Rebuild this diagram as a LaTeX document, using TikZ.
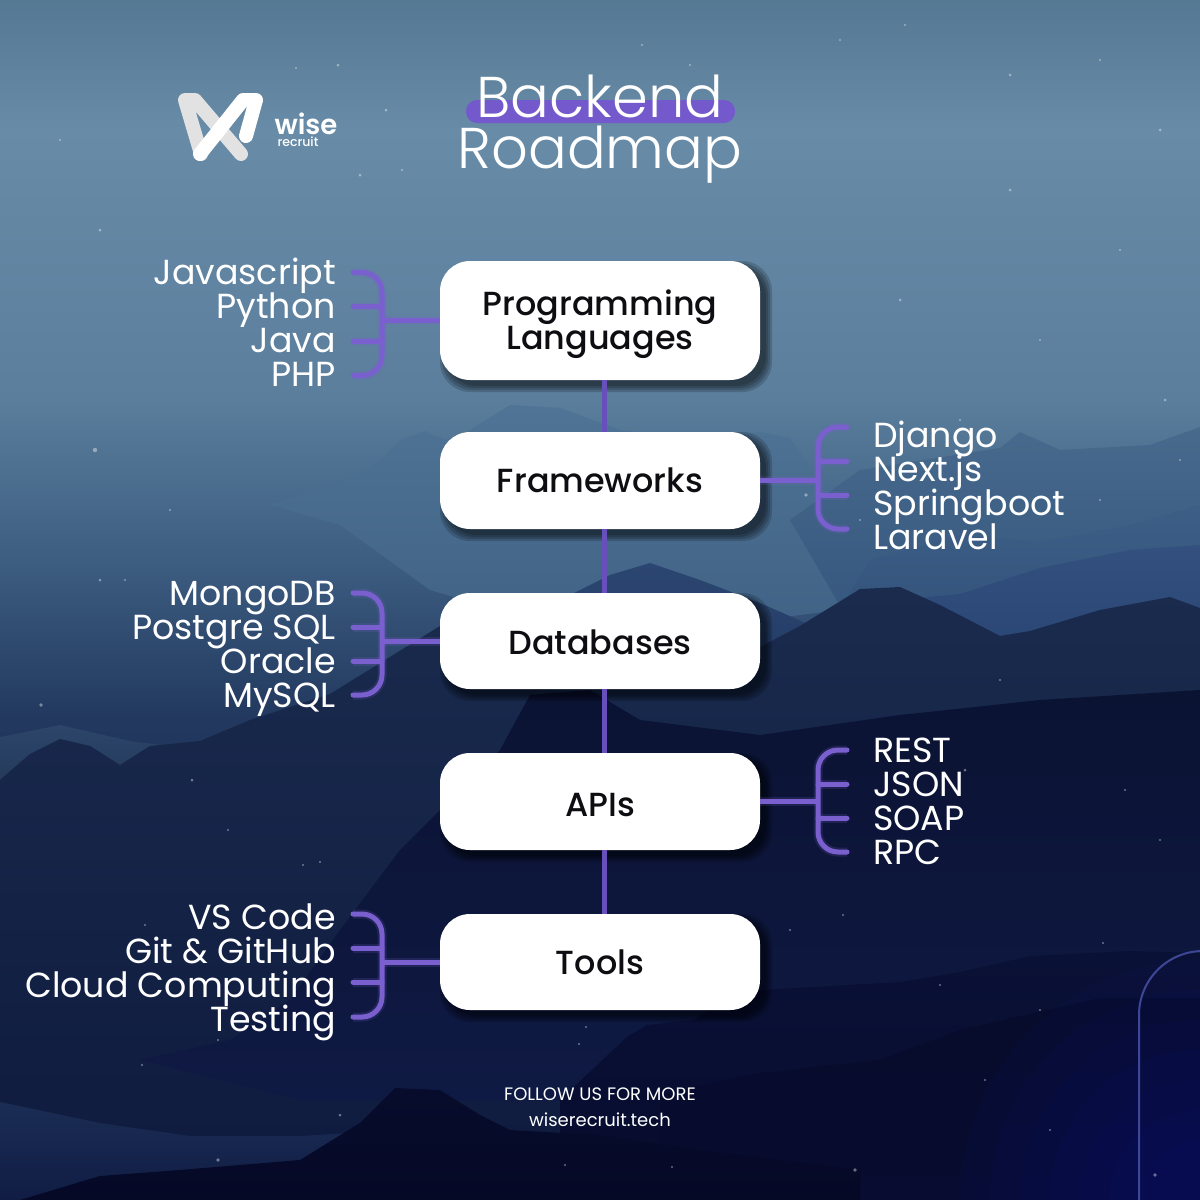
\documentclass[tikz,border=0pt]{standalone}
\usepackage{fontspec}
\setmainfont{Poppins}
\newfontfamily\poplight{Poppins Light}
\newfontfamily\popmed{Poppins Medium}
\newfontfamily\popsemi{Poppins SemiBold}
\usetikzlibrary{calc}
\definecolor{violet}{HTML}{7A5FCF}
\definecolor{spinecol}{HTML}{6750BC}
\definecolor{pillcol}{HTML}{7359CC}
\definecolor{inkcol}{HTML}{0E0E12}
\definecolor{glowcol}{RGB}{12,26,150}
\definecolor{arccol}{RGB}{62,70,150}
\definecolor{logogrey}{RGB}{226,226,226}
\tikzset{
  stepbox/.style={fill=white,rounded corners=30pt,minimum width=320pt,inner sep=0pt,align=center,text=inkcol,font=\popmed\fontsize{33.4}{34}\selectfont},
  boxbase/.style={text depth=10pt,text height=#1},
  itemleft/.style={anchor=base east,text=white,inner sep=0pt,font=\fontsize{34.8}{34}\selectfont},
  itemright/.style={anchor=base west,text=white,inner sep=0pt,font=\fontsize{34.8}{34}\selectfont},
  brack/.style={draw=violet,line width=5pt,line cap=round,preaction={draw=violet,line width=9pt,opacity=.18}},
  spine/.style={draw=spinecol,line width=5pt},
  foot/.style={text=white,inner sep=0pt,font=\fontsize{18}{20}\selectfont},
  starry/.style={fill=white,opacity=.4},
}
\newcommand{\leftbrack}[6]{%
  \coordinate (t1#6) at (353,#1); \coordinate (t2#6) at (353,#2);
  \coordinate (t3#6) at (353,#3); \coordinate (t4#6) at (353,#4);
  \coordinate (hub#6) at (382,#5);
  \draw[brack] (t2#6) -- (t2#6 -| hub#6);
  \draw[brack] (t3#6) -- (t3#6 -| hub#6);
  \draw[brack,line cap=butt] (hub#6) -- (hub#6 -| #6.west);
  \draw[brack,rounded corners=20pt] (t1#6) -- (t1#6 -| hub#6) -- (t4#6 -| hub#6) -- (t4#6);
}
\newcommand{\rightbrack}[6]{%
  \coordinate (t1#6) at (847,#1); \coordinate (t2#6) at (847,#2);
  \coordinate (t3#6) at (847,#3); \coordinate (t4#6) at (847,#4);
  \coordinate (hub#6) at (818,#5);
  \draw[brack] (t2#6) -- (t2#6 -| hub#6);
  \draw[brack] (t3#6) -- (t3#6 -| hub#6);
  \draw[brack,line cap=butt] (hub#6) -- (hub#6 -| #6.east);
  \draw[brack,rounded corners=20pt] (t1#6) -- (t1#6 -| hub#6) -- (t4#6 -| hub#6) -- (t4#6);
}
\newcommand{\softshadow}[4]{%
  \foreach \g in {6,4,2,0}{
    \fill[black,opacity=.17,rounded corners=30pt] (#1+6-\g,#2+6-\g) rectangle (#3+6+\g,#4+6+\g);
  }%
}
\newcommand{\rng}[3]{\definecolor{rngtop}{HTML}{#1}\definecolor{rngbot}{HTML}{#2}\shade[top color=rngtop,bottom color=rngbot] #3;}
\begin{document}
\begin{tikzpicture}[x=1pt,y=-1pt]
\useasboundingbox (0,0) rectangle (1200,1200);
\clip (0,0) rectangle (1200,1200);
% sky
\rng{557893}{688CA7}{(0,0) rectangle (1200,130)}
\rng{688CA7}{5A7E9C}{(0,129) rectangle (1200,400)}
\rng{5A7E9C}{3B5B7F}{(0,399) rectangle (1200,570)}
\rng{3B5B7F}{22385E}{(0,569) rectangle (1200,720)}
\rng{22385E}{14244C}{(0,719) rectangle (1200,1200)}
% distant ridges
\rng{4F7495}{3F6185}{(270,505) -- (300,495) -- (350,478) -- (378,462) -- (400,440) -- (425,431) -- (445,440) -- (470,430) -- (510,405) -- (560,408) -- (620,430) -- (700,440) -- (760,432) -- (790,438) -- (812,470) -- (860,510) -- (920,600) -- (600,640) -- (430,590) -- (340,525) -- cycle}
\rng{476A8D}{34547C}{(790,520) -- (860,470) -- (1000,448) -- (1020,432) -- (1060,450) -- (1150,445) -- (1200,427) -- (1200,640) -- (860,640) -- cycle}
\rng{3D5F86}{2C4A74}{(830,625) -- (870,560) -- (960,535) -- (1040,542) -- (1130,525) -- (1200,505) -- (1200,700) -- (870,700) -- cycle}
\rng{33507F}{253F6C}{(900,600) -- (960,594) -- (1040,568) -- (1130,550) -- (1200,545) -- (1200,720) -- (900,720) -- cycle}
\rng{2B4670}{1E3460}{(420,700) -- (480,660) -- (560,600) -- (610,575) -- (650,563) -- (700,580) -- (760,603) -- (810,625) -- (810,760) -- (420,760) -- cycle}
\rng{2C4568}{1E3356}{(0,737) -- (60,725) -- (130,741) -- (200,750) -- (260,740) -- (260,820) -- (0,820) -- cycle}
% main dark range
\rng{1A2B4E}{0E1A3E}{(0,780) -- (30,754) -- (60,739) -- (90,746) -- (120,765) -- (150,746) -- (200,741) -- (250,720) -- (330,694) -- (440,626) -- (520,650) -- (600,690) -- (700,660) -- (760,647) -- (800,626) -- (860,589) -- (900,587) -- (940,605) -- (1000,636) -- (1030,631) -- (1100,610) -- (1170,597) -- (1200,608) -- (1200,1200) -- (0,1200) -- cycle}
% dark spur in the middle, running out to the right
\rng{0B1333}{0F1A44}{(140,1060) -- (230,1040) -- (290,1000) -- (340,930) -- (400,850) -- (440,810) -- (500,750) -- (530,695) -- (590,690) -- (640,720) -- (760,735) -- (900,715) -- (1040,700) -- (1200,690) -- (1200,1100) -- (300,1100) -- cycle}
% lower right bands
\rng{0A1136}{070C2E}{(560,1100) -- (627,1037) -- (647,1025) -- (693,1020) -- (727,1000) -- (760,990) -- (900,982) -- (960,972) -- (1030,956) -- (1130,951) -- (1200,953) -- (1200,1200) -- (560,1200) -- cycle}
\rng{070C2C}{070C30}{(660,1095) -- (693,1087) -- (760,1073) -- (880,1060) -- (960,1030) -- (1100,998) -- (1200,998) -- (1200,1200) -- (660,1200) -- cycle}
% lower left slope
\rng{1B2D54}{101C44}{(0,1102) -- (100,1123) -- (190,1136) -- (300,1136) -- (480,1125) -- (520,1200) -- (0,1200) -- cycle}
% front ridge
\rng{070C2C}{050926}{(20,1200) -- (100,1176) -- (180,1170) -- (300,1160) -- (360,1123) -- (395,1088) -- (440,1090) -- (480,1115) -- (510,1130) -- (600,1135) -- (700,1150) -- (860,1170) -- (860,1200) -- cycle}
% blue glow in the lower right corner
\foreach \r in {240,210,180,150,120,90,60}{
  \fill[glowcol,opacity=.06] (1200,1200) circle[radius=\r];
}
% specks
\foreach \px/\py/\pr in {338/65/1.5,296/68/1.2,386/110/1.5,402/170/1.2,360/175/1.5,642/45/1.2,690/65/1.2,840/40/1.2,905/25/1.2,1010/75/1.5,1100/60/1.2,1160/130/1.5,60/140/1.2,100/230/1.5,1010/190/1.5,1120/250/1.2,900/300/1.5,1040/340/1.2,1165/400/1.5,960/420/1.2,95/450/2.2,170/510/1.2,100/580/1.5,125/580/1.2,41/705/1.8,192/780/1.5,228/830/1.2,303/865/1.2,320/862/1.2,145/925/1.2,218/1040/1.2,142/1065/1.2,340/1115/1.5,218/1160/1.8,785/480/1.5,806/495/1.8,860/520/1.2,1100/500/1.2,1180/460/1.2,1000/680/1.2,965/770/1.5,1125/790/1.2,1160/840/1.2,843/915/1.2,940/985/1.2,1040/1010/1.2,855/1170/1.8,1155/1175/1.8,1103/943/1.2,985/1080/1.2,1050/1130/1.2,586/1027/1.2,579/1044/1.2,565/1165/1.2,672/1167/1.2,790/930/1.2}{
  \fill[starry] (\px,\py) circle[radius=\pr];
}
% decorative arc
\draw[draw=arccol,line width=2pt,rounded corners=64pt] (1139,1201) -- (1139,951) -- (1204,951);
% logo
\draw[draw=logogrey,line width=14pt,line cap=round,line join=round] (201,154) -- (185,100) -- (195,100) -- (241,154);
\draw[draw=white,line width=14pt,line cap=round,line join=round] (200,154) -- (243,100) -- (256,100) -- (246,136);
\node[text=white,inner sep=0pt,font=\popsemi\fontsize{27.5}{28}\selectfont] (logoa) at (306,124) {wise};
\node[text=white,inner sep=0pt,font=\popmed\fontsize{12.5}{13}\selectfont] (logob) at (298,142) {recruit};
% title
\fill[pillcol,rounded corners=11pt] (466,100) rectangle (735,123);
\node[anchor=base,text=white,inner sep=0pt,font=\poplight\fontsize{57.5}{60}\selectfont] (titlea) at (600,117) {Backend};
\node[anchor=base,text=white,inner sep=0pt,font=\poplight\fontsize{57.5}{60}\selectfont] (titleb) at (600,168) {Roadmap};
% boxes
\softshadow{440}{261}{760}{380}
\softshadow{440}{432}{760}{529}
\softshadow{440}{593}{760}{689}
\softshadow{440}{753}{760}{850}
\softshadow{440}{914}{760}{1010}
\node[stepbox,minimum height=119pt] (bl) at (600,320.5) {\rule{0pt}{34pt}Programming\\Languages};
\node[stepbox,boxbase=34pt,minimum height=97pt] (bf) at (600,480.5) {Frameworks};
\node[stepbox,boxbase=37pt,minimum height=96pt] (bd) at (600,641) {Databases};
\node[stepbox,boxbase=40pt,minimum height=97pt] (ba) at (600,801.5) {APIs};
\node[stepbox,boxbase=34pt,minimum height=96pt] (bt) at (600,962) {Tools};
% spine
\draw[spine] ([xshift=4pt]bl.south) -- ([xshift=4pt]bf.north);
\draw[spine] ([xshift=4pt]bf.south) -- ([xshift=4pt]bd.north);
\draw[spine] ([xshift=4pt]bd.south) -- ([xshift=4pt]ba.north);
\draw[spine] ([xshift=4pt]ba.south) -- ([xshift=4pt]bt.north);
% brackets
\leftbrack{272.5}{306.5}{341}{375.5}{320.5}{bl}
\rightbrack{427}{461.5}{495}{529}{480.5}{bf}
\leftbrack{593}{627}{661}{695}{641}{bd}
\rightbrack{750}{784}{818}{852}{801.5}{ba}
\leftbrack{914}{948}{982}{1017}{962}{bt}
% items
\node[itemleft] (i1) at (336,284.5) {Javascript};
\node[itemleft] (i2) at (336,318.5) {Python};
\node[itemleft] (i3) at (336,352.5) {Java};
\node[itemleft] (i4) at (336,386.5) {PHP};
\node[itemright] (f1) at (873,447.5) {Django};
\node[itemright] (f2) at (873,481.5) {Next.js};
\node[itemright] (f3) at (873,515.5) {Springboot};
\node[itemright] (f4) at (873,549.5) {Laravel};
\node[itemleft] (d1) at (336,605.5) {MongoDB};
\node[itemleft] (d2) at (336,639.5) {Postgre SQL};
\node[itemleft] (d3) at (336,673.5) {Oracle};
\node[itemleft] (d4) at (336,707.5) {MySQL};
\node[itemright] (a1) at (873,762) {REST};
\node[itemright] (a2) at (873,796) {JSON};
\node[itemright] (a3) at (873,830) {SOAP};
\node[itemright] (a4) at (873,864) {RPC};
\node[itemleft] (t1) at (336,929) {VS Code};
\node[itemleft] (t2) at (336,963) {Git \& GitHub};
\node[itemleft] (t3) at (336,997) {Cloud Computing};
\node[itemleft] (t4) at (336,1031) {Testing};
% footer
\node[foot] (fa) at (600,1094) {FOLLOW US FOR MORE};
\node[foot] (fb) at (600,1120) {wiserecruit.tech};
\end{tikzpicture}
\end{document}
